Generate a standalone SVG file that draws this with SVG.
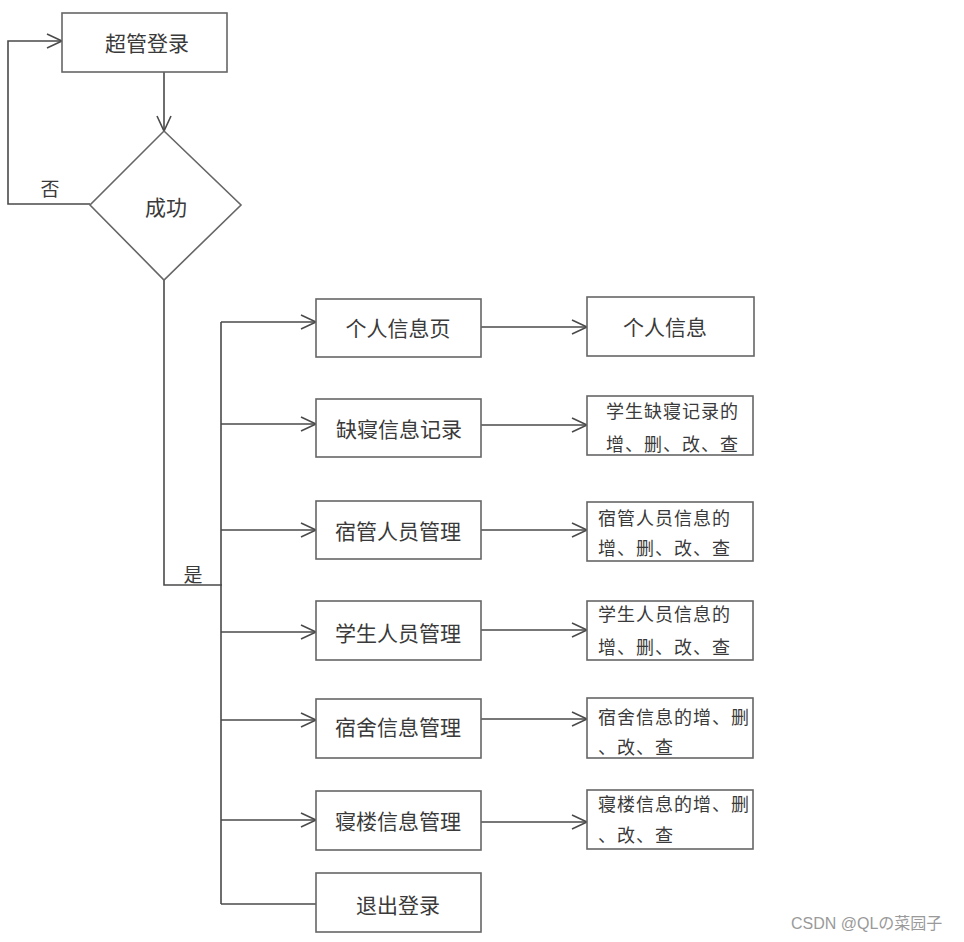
<svg xmlns="http://www.w3.org/2000/svg" width="964" height="942" viewBox="0 0 964 942">
<style>
.box{fill:#fff;stroke:#666;stroke-width:1.6}
.ln{fill:none;stroke:#4a4a4a;stroke-width:1.6}
.t{font-family:"Noto Sans CJK SC","Noto Sans",sans-serif;fill:#3a3a3a;dominant-baseline:central}
.m{font-size:21px;text-anchor:middle}
.s{font-size:18px;letter-spacing:1px}
.wm{font-family:"Liberation Sans","Noto Sans CJK SC",sans-serif;font-size:16px;fill:#9a9a9a}
</style>
<defs>
<marker id="ar" markerUnits="userSpaceOnUse" markerWidth="20" markerHeight="18" refX="16" refY="8" orient="auto">
<path d="M1,1 L16,8 L1,15" fill="none" stroke="#4a4a4a" stroke-width="1.6"/>
</marker>
</defs>
<rect width="964" height="942" fill="#fff"/>
<g id="connectors">
<path class="ln" d="M164,72 V131" marker-end="url(#ar)"/>
<path class="ln" d="M90,204 H8 V41 H62" marker-end="url(#ar)"/>
<path class="ln" d="M164,280 V585 H222"/>
<path class="ln" d="M221,322 V904"/>
<path class="ln" d="M221,322 H316" marker-end="url(#ar)"/>
<path class="ln" d="M221,424 H316" marker-end="url(#ar)"/>
<path class="ln" d="M221,530 H316" marker-end="url(#ar)"/>
<path class="ln" d="M221,632 H316" marker-end="url(#ar)"/>
<path class="ln" d="M221,720 H316" marker-end="url(#ar)"/>
<path class="ln" d="M221,820 H316" marker-end="url(#ar)"/>
<path class="ln" d="M221,904 H316"/>
<path class="ln" d="M481,327 H587" marker-end="url(#ar)"/>
<path class="ln" d="M481,425 H587" marker-end="url(#ar)"/>
<path class="ln" d="M481,530 H587" marker-end="url(#ar)"/>
<path class="ln" d="M481,630 H587" marker-end="url(#ar)"/>
<path class="ln" d="M481,719 H587" marker-end="url(#ar)"/>
<path class="ln" d="M481,822 H587" marker-end="url(#ar)"/>
<text class="t" x="50" y="187" font-size="19" text-anchor="middle">否</text>
<text class="t" x="193" y="573" font-size="19" text-anchor="middle">是</text>
</g>
<g id="login">
<rect class="box" x="62" y="13" width="165" height="59"/>
<text class="t m" x="147" y="42">超管登录</text>
</g>
<g id="success">
<path class="box" d="M164,131 L241,205 L164,280 L90,205 Z"/>
<text class="t m" x="166" y="206">成功</text>
</g>
<g id="personal-page">
<rect class="box" x="316" y="299" width="165" height="58"/>
<text class="t m" x="398" y="327">个人信息页</text>
</g>
<g id="absence-record">
<rect class="box" x="316" y="399" width="165" height="58"/>
<text class="t m" x="399" y="428">缺寝信息记录</text>
</g>
<g id="dorm-admin-mgmt">
<rect class="box" x="316" y="501" width="165" height="58"/>
<text class="t m" x="398" y="530">宿管人员管理</text>
</g>
<g id="student-mgmt">
<rect class="box" x="316" y="601" width="165" height="59"/>
<text class="t m" x="398" y="632">学生人员管理</text>
</g>
<g id="room-mgmt">
<rect class="box" x="316" y="699" width="165" height="59"/>
<text class="t m" x="398" y="726">宿舍信息管理</text>
</g>
<g id="building-mgmt">
<rect class="box" x="316" y="791" width="165" height="59"/>
<text class="t m" x="398" y="820">寝楼信息管理</text>
</g>
<g id="logout">
<rect class="box" x="316" y="873" width="165" height="59"/>
<text class="t m" x="398" y="904">退出登录</text>
</g>
<g id="personal-info">
<rect class="box" x="587" y="297" width="167" height="59"/>
<text class="t m" x="665" y="326">个人信息</text>
</g>
<g id="absence-crud">
<rect class="box" x="587" y="396" width="166" height="59"/>
<text class="t s" x="606" y="410">学生缺寝记录的</text>
<text class="t s" x="606" y="443">增、删、改、查</text>
</g>
<g id="dorm-admin-crud">
<rect class="box" x="587" y="502" width="166" height="59"/>
<text class="t s" x="598" y="517">宿管人员信息的</text>
<text class="t s" x="598" y="547">增、删、改、查</text>
</g>
<g id="student-crud">
<rect class="box" x="587" y="601" width="166" height="59"/>
<text class="t s" x="598" y="613">学生人员信息的</text>
<text class="t s" x="598" y="646">增、删、改、查</text>
</g>
<g id="room-crud">
<rect class="box" x="587" y="698" width="166" height="60"/>
<text class="t s" x="598" y="716">宿舍信息的增、删</text>
<text class="t s" x="598" y="746">、改、查</text>
</g>
<g id="building-crud">
<rect class="box" x="587" y="790" width="166" height="59"/>
<text class="t s" x="598" y="803">寝楼信息的增、删</text>
<text class="t s" x="598" y="834">、改、查</text>
</g>
<text class="wm" x="791" y="929">CSDN @QLの菜园子</text>
</svg>
